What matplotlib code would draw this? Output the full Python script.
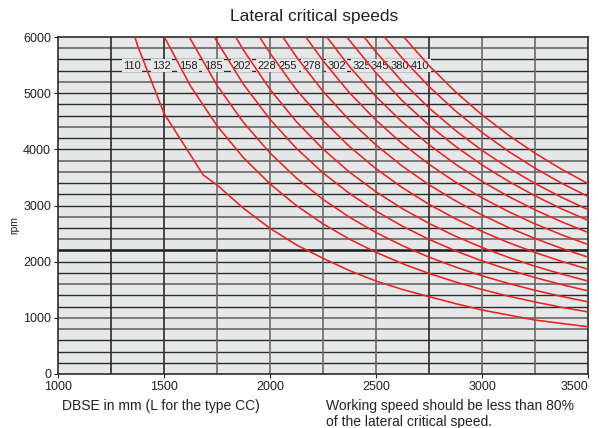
import numpy as np
import matplotlib
matplotlib.use("Agg")
import matplotlib.pyplot as plt

plt.rcParams['font.family'] = ['Liberation Sans', 'DejaVu Sans']

# Data
labels = ["110", "132", "158", "185", "202", "228", "255", "278", "302", "325", "345", "380", "410"]
label_x = [1348, 1489, 1613, 1731, 1866, 1984, 2085, 2197, 2315, 2432, 2519, 2613, 2708]
top_x = [1363, 1502, 1620, 1738, 1838, 1951, 2061, 2169, 2268, 2363, 2444, 2540, 2631]
grid_x = [1250, 1375, 1500, 1625, 1750, 1875, 2000, 2125, 2250, 2375,
          2500, 2625, 2750, 2875, 3000, 3125, 3250, 3375, 3500]

# the 110 curve bends visibly at this point
bend_110_x = 1685
bend_110_rpm = 3543

N = None
rpm_110 = [N, 5850, 4641, 3900, 3365, 2950, 2594, 2298, 2060, 1840, 1655, 1505, 1377, 1253, 1139, 1050, 961, 900, 842]
rpm_132 = [N, N, N, 5126, 4420, 3850, 3384, 2998, 2674, 2400, 2166, 1964, 1790, 1638, 1504, 1386, 1282, 1188, 1105]
rpm_158 = [N, N, N, 5961, 5140, 4477, 3935, 3486, 3109, 2791, 2519, 2284, 2081, 1904, 1749, 1612, 1490, 1382, 1285]
rpm_185 = [N, N, N, N, 5920, 5157, 4533, 4015, 3581, 3214, 2901, 2631, 2397, 2193, 2014, 1857, 1717, 1592, 1480]
rpm_202 = [N, N, N, N, N, 5767, 5068, 4490, 4005, 3594, 3244, 2942, 2681, 2453, 2253, 2076, 1919, 1780, 1655]
rpm_228 = [N, N, N, N, N, N, 5712, 5059, 4513, 4050, 3655, 3316, 3021, 2764, 2538, 2339, 2163, 2006, 1865]
rpm_255 = [N, N, N, N, N, N, N, 5643, 5033, 4517, 4077, 3698, 3369, 3083, 2831, 2609, 2412, 2237, 2080]
rpm_278 = [N, N, N, N, N, N, N, N, 5578, 5006, 4518, 4098, 3734, 3416, 3137, 2891, 2673, 2479, 2305]
rpm_302 = [N, N, N, N, N, N, N, N, N, 5473, 4939, 4480, 4082, 3735, 3430, 3161, 2923, 2710, 2520]
rpm_325 = [N, N, N, N, N, N, N, N, N, 5940, 5361, 4862, 4430, 4053, 3723, 3431, 3172, 2941, 2735]
rpm_345 = [N, N, N, N, N, N, N, N, N, N, 5733, 5200, 4738, 4335, 3981, 3669, 3392, 3146, 2925]
rpm_380 = [N, N, N, N, N, N, N, N, N, N, N, 5618, 5119, 4683, 4301, 3964, 3665, 3398, 3160]
rpm_410 = [N, N, N, N, N, N, N, N, N, N, N, N, 5491, 5024, 4614, 4252, 3932, 3646, 3390]

curves = [rpm_110, rpm_132, rpm_158, rpm_185, rpm_202, rpm_228, rpm_255,
          rpm_278, rpm_302, rpm_325, rpm_345, rpm_380, rpm_410]

grey_rows = [800, 1000, 1600, 2400, 2800, 3600, 3800, 4400, 5200, 5800]

W, H = 598, 428
fig = plt.figure(figsize=(W / 100, H / 100), dpi=100)
fig.patch.set_facecolor('white')
ax = fig.add_axes([58 / W, (H - 374) / H, 530 / W, 337 / H])
ax.set_facecolor('#e6e7e8')
ax.set_xlim(1000, 3500)
ax.set_ylim(0, 6000)

# horizontal grid every 200 rpm
for r in range(200, 6000, 200):
    if r == 2200:
        ax.axhline(r, color='#1a1a1a', lw=1.8, zorder=1)
    elif r in grey_rows:
        ax.axhline(r, color='#7a7a7a', lw=1.4, zorder=1)
    else:
        ax.axhline(r, color='#2b2b2b', lw=1.0, zorder=1)

# vertical grid every 250 mm
for v in range(1250, 3500, 250):
    col = '#2b2b2b' if v in (1250, 1500, 2750) else '#6a6a6a'
    ax.axvline(v, color=col, lw=1.2, zorder=1)

for i, (xs_top, rpm) in enumerate(zip(top_x, curves)):
    pts = [(xs_top, 6000)] + [(g, r) for g, r in zip(grid_x, rpm) if r is not None]
    if i == 0:
        pts.append((bend_110_x, bend_110_rpm))
        pts.sort()
    xs, ys = zip(*pts)
    ax.plot(xs, ys, color='#ee2222', lw=1.15, zorder=4, solid_capstyle='butt')

for lx, lab in zip(label_x, labels):
    ax.text(lx, 5490, lab, ha='center', va='center', fontsize=8, color='#222222',
            zorder=3, bbox=dict(facecolor='#e6e7e8', edgecolor='none', pad=1.0))

for s in ax.spines.values():
    s.set_color('#2b2b2b')
    s.set_linewidth(1.2)

ax.set_xticks([1000, 1500, 2000, 2500, 3000, 3500])
ax.set_yticks([0, 1000, 2000, 3000, 4000, 5000, 6000])
ax.tick_params(direction='out', length=3, width=0.8, labelsize=9, colors='#222222', pad=2)
xlabels = ax.get_xticklabels()
xlabels[-1].set_horizontalalignment('right')

fig.text(314 / W, 1 - 17 / H, "Lateral critical speeds", ha='center', va='center',
         fontsize=12.5, color='#222222')
fig.text(14 / W, 1 - 225 / H, "rpm", rotation=90, ha='center', va='center',
         fontsize=7.5, color='#222222')
fig.text(62 / W, 1 - 406 / H, "DBSE in mm (L for the type CC)", ha='left', va='center',
         fontsize=10, color='#222222')
fig.text(326 / W, 1 - 414 / H, "Working speed should be less than 80%\nof the lateral critical speed.",
         ha='left', va='center', fontsize=10, color='#222222', linespacing=1.2)

fig.savefig('out.png', dpi=100)
